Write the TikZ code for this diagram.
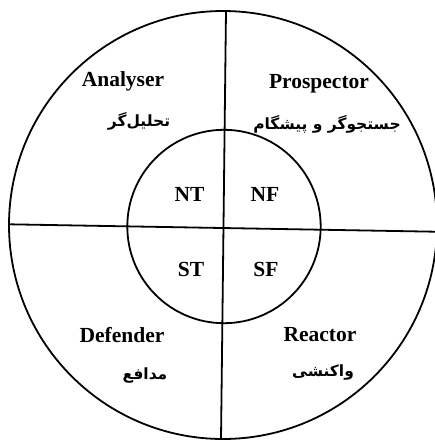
\documentclass[tikz,border=0pt]{standalone}
\usepackage{fontspec}
\setmainfont{Liberation Serif}
\newfontfamily\arabicfont[Script=Arabic]{DejaVu Sans}
\TeXXeTstate=1
\begin{document}
\begin{tikzpicture}[x=1pt,y=-1pt,
  lat/.style={font=\fontsize{21.5}{24}\selectfont\bfseries, inner sep=0pt},
  fa/.style={font=\fontsize{15.5}{18}\arabicfont\bfseries, inner sep=0pt},
  ring/.style={line width=1.8pt}]
\useasboundingbox (0,0) rectangle (435,440);
\clip (0,0) rectangle (435,440);
% circles
\draw[ring] (223,225) circle[radius=214];
\draw[ring] (224,226.5) circle[radius=96.7];
% axes
\coordinate (top) at (226,11);
\coordinate (bottom) at (221,440);
\coordinate (left) at (9,224.3);
\coordinate (right) at (435,231.7);
\draw[ring] (top) -- (bottom);
\draw[ring] (left) -- (right);
% labels
\node[lat] (an) at (123,81) {Analyser};
\node[lat] (pr) at (319,84) {Prospector};
\node[lat] (de) at (122,335) {Defender};
\node[lat] (re) at (320,335) {Reactor};
\node[lat] (nt) at (189.5,194) {NT};
\node[lat] (nf) at (265,194) {NF};
\node[lat] (st) at (191,269) {ST};
\node[lat] (sf) at (266,269) {SF};
\node[fa] (anf) at (139,121) {\beginR تحلیل‌گر\endR};
\node[fa] (prf) at (327,124) {\beginR جستجوگر و پیشگام\endR};
\node[fa] (def) at (145,375) {\beginR مدافع\endR};
\node[fa] (ref) at (323,372) {\beginR واکنشی\endR};
\end{tikzpicture}
\end{document}
